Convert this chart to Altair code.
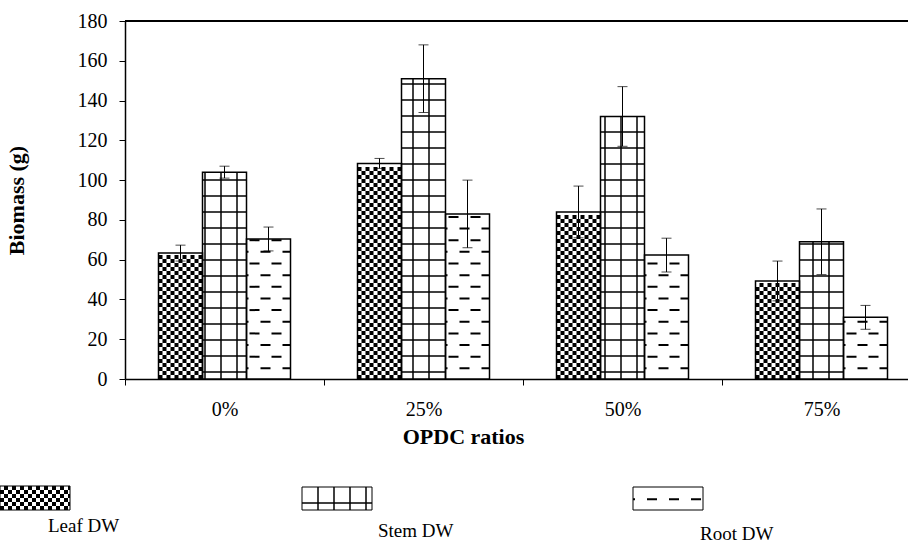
import json
import math

import altair as alt
import pandas as pd

# ---------------- data ----------------
ratios = ["0%", "25%", "50%", "75%"]
series = ["Leaf DW", "Stem DW", "Root DW"]
leaf_dw = [63.3, 108.4, 84.0, 49.3]
stem_dw = [104.0, 151.0, 132.0, 69.0]
root_dw = [70.4, 83.0, 62.3, 31.0]
leaf_err = [4.0, 2.5, 13.0, 10.0]
stem_err = [3.0, 17.0, 15.0, 16.5]
root_err = [6.0, 17.0, 8.5, 6.0]
y_ticks = [0, 20, 40, 60, 80, 100, 120, 140, 160, 180]

# ---------------- layout / style ----------------
PAGE_W, PAGE_H = 908, 544
LEFT, TOP = 125, 21
PLOT_W, PLOT_H = 783, 358
GROUP_PX = 199.0
X_MAX = PLOT_W / GROUP_PX
Y_MAX = 180
BAR_W = 44 / GROUP_PX
UX = GROUP_PX               # px per x unit
UY = PLOT_H / Y_MAX         # px per y unit
FONT = "Liberation Serif"
LABEL_SIZE, TITLE_SIZE, LEGEND_SIZE = 20, 22, 19
PATTERN = {"Leaf DW": "checker", "Stem DW": "grid", "Root DW": "dash"}

STYLES = {
    "checker_a": dict(strokeWidth=4, strokeDash=[4, 4], strokeDashOffset=0, strokeCap="butt"),
    "checker_b": dict(strokeWidth=4, strokeDash=[4, 4], strokeDashOffset=4, strokeCap="butt"),
    "grid": dict(strokeWidth=1.5, strokeCap="butt"),
    "dash_a": dict(strokeWidth=2, strokeDash=[10, 12], strokeDashOffset=8, strokeCap="butt"),
    "dash_b": dict(strokeWidth=2, strokeDash=[10, 12], strokeDashOffset=19, strokeCap="butt"),
}


def pattern(kind, x0, x1, y0, y1, ux, uy, gx0):
    """Fill elements for a rectangle; y0 is the bottom edge, uy px per unit (signed)."""
    out = []
    h_px = abs((y1 - y0) * uy)
    if kind == "checker":
        n = int(h_px // 4)
        for k in range(n):
            yy = y0 + (k + 0.5) * 4 / uy
            out.append(dict(x=x0, x2=x1, y=yy, y2=yy,
                            kind="checker_a" if k % 2 == 0 else "checker_b"))
    elif kind == "grid":
        k = 0
        while 7 + 16 * k <= h_px - 1:
            yy = y0 + (7 + 16 * k) / uy
            out.append(dict(x=x0, x2=x1, y=yy, y2=yy, kind="grid"))
            k += 1
        m = math.floor((x0 - gx0) * ux / 16)
        while True:
            xx = gx0 + 16 * m / ux
            if xx * ux >= x1 * ux - 1.5:
                break
            if xx * ux > x0 * ux + 1.5:
                out.append(dict(x=xx, x2=xx, y=y0, y2=y1, kind="grid"))
            m += 1
    else:
        k = 0
        while 11.65 * (k + 1) - 1 <= h_px - 1:
            yy = y0 + (11.65 * (k + 1) - 1) / uy
            out.append(dict(x=x0, x2=x1, y=yy, y2=yy,
                            kind="dash_a" if k % 2 == 0 else "dash_b"))
            k += 1
    return out


# ---------------- tables built from the arrays ----------------
values = {"Leaf DW": leaf_dw, "Stem DW": stem_dw, "Root DW": root_dw}
errors = {"Leaf DW": leaf_err, "Stem DW": stem_err, "Root DW": root_err}
rows, pat_rows = [], []
for i, r in enumerate(ratios):
    c = i + 0.5
    for j, s in enumerate(series):
        v, e = values[s][i], errors[s][i]
        x0 = c + (j - 1.5) * BAR_W
        x1 = x0 + BAR_W
        rows.append(dict(ratio=r, series=s, x0=x0, x1=x1, xc=(x0 + x1) / 2,
                         base=0.0, value=v, lo=v - e, hi=v + e))
        pat_rows += pattern(PATTERN[s], x0, x1, 0.0, v, UX, UY, 0.0)
bars_df = pd.DataFrame(rows)
pat_df = pd.DataFrame(pat_rows)

# legend (page-pixel layout)
LEG_BOX = {"Leaf DW": (0, 70, 510, 486), "Stem DW": (302, 372, 510, 487),
           "Root DW": (633, 703, 510, 487)}
LEG_TEXT = {"Leaf DW": (48, 532), "Stem DW": (378, 537), "Root DW": (700, 540)}
leg_rows, leg_pat = [], []
for s in series:
    x0, x1, yb, yt = LEG_BOX[s]
    tx, ty = LEG_TEXT[s]
    leg_rows.append(dict(series=s, x0=x0, x1=x1, yb=yb, yt=yt, tx=tx, ty=ty))
    leg_pat += pattern(PATTERN[s], x0, x1, yb, yt, 1.0, -1.0, x0)
leg_df = pd.DataFrame(leg_rows)
leg_pat_df = pd.DataFrame(leg_pat)

# ---------------- scales / axes ----------------
xs = alt.Scale(domain=[0, X_MAX], nice=False, zero=False)
ys = alt.Scale(domain=[0, Y_MAX], nice=False, zero=True)
label_expr = json.dumps(ratios) + "[datum.value]"
x_axis = alt.Axis(values=list(range(len(ratios))), labelExpr=label_expr,
                  labelOffset=GROUP_PX / 2, tickSize=6, tickColor="black",
                  domainColor="black", domainWidth=1.5, tickWidth=1, grid=False,
                  labelFont=FONT, labelFontSize=LABEL_SIZE, labelColor="black",
                  labelPadding=14, labelAngle=0, labelFlush=False, labelOverlap=False,
                  titleFont=FONT, titleFontSize=TITLE_SIZE, titleFontWeight="bold",
                  titleColor="black", titlePadding=7, titleX=338)
y_axis = alt.Axis(values=y_ticks, tickSize=6, tickColor="black", domainColor="black",
                  domainWidth=1.5, tickWidth=1, grid=False, labelFont=FONT,
                  labelFontSize=LABEL_SIZE, labelColor="black", labelPadding=12,
                  labelFlush=False, labelOverlap=False, titleFont=FONT,
                  titleFontSize=TITLE_SIZE, titleFontWeight="bold", titleColor="black",
                  titlePadding=49)
X_TITLE, Y_TITLE = "OPDC ratios", "Biomass (g)"


def X(field):
    return alt.X(field, scale=xs, axis=x_axis, title=X_TITLE)


def Y(field):
    return alt.Y(field, scale=ys, axis=y_axis, title=Y_TITLE)


bars_fill = alt.Chart(bars_df).mark_rect(fill="white", strokeWidth=0).encode(
    x=X("x0:Q"), x2="x1:Q", y=Y("value:Q"), y2="base:Q")


def pattern_layers(df, xf, yf):
    out = []
    for kind, props in STYLES.items():
        sub = df[df["kind"] == kind]
        if sub.empty:
            continue
        out.append(alt.Chart(sub).mark_rule(color="black", **props).encode(
            x=xf("x:Q"), x2="x2:Q", y=yf("y:Q"), y2="y2:Q"))
    return out


bars_outline = alt.Chart(bars_df).mark_rect(fill=None, stroke="black", strokeWidth=1.5).encode(
    x=X("x0:Q"), x2="x1:Q", y=Y("value:Q"), y2="base:Q")
err_rule = alt.Chart(bars_df).mark_rule(color="black", strokeWidth=1).encode(
    x=X("xc:Q"), y=Y("lo:Q"), y2="hi:Q")
cap_hi = alt.Chart(bars_df).mark_tick(orient="horizontal", size=10, thickness=1, color="black").encode(
    x=X("xc:Q"), y=Y("hi:Q"))
cap_lo = alt.Chart(bars_df).mark_tick(orient="horizontal", size=10, thickness=1, color="black").encode(
    x=X("xc:Q"), y=Y("lo:Q"))
top_line = alt.Chart(pd.DataFrame({"a": [0]})).mark_rule(color="black", strokeWidth=2).encode(
    x=alt.value(0), x2=alt.value(PLOT_W), y=alt.value(0))

main = alt.layer(bars_fill, *pattern_layers(pat_df, X, Y), bars_outline,
                 err_rule, cap_hi, cap_lo, top_line)

# legend layers in page pixels
lxs = alt.Scale(domain=[0, PAGE_W], range=[-LEFT, PAGE_W - LEFT], nice=False, zero=False)
lys = alt.Scale(domain=[0, PAGE_H], range=[-TOP, PAGE_H - TOP], nice=False, zero=False)


def LX(field):
    return alt.X(field, scale=lxs, axis=None)


def LY(field):
    return alt.Y(field, scale=lys, axis=None)


leg_fill = alt.Chart(leg_df).mark_rect(fill="white", strokeWidth=0).encode(
    x=LX("x0:Q"), x2="x1:Q", y=LY("yt:Q"), y2="yb:Q")
leg_outline = alt.Chart(leg_df).mark_rect(fill=None, stroke="black", strokeWidth=1).encode(
    x=LX("x0:Q"), x2="x1:Q", y=LY("yt:Q"), y2="yb:Q")
leg_text = alt.Chart(leg_df).mark_text(align="left", baseline="alphabetic", font=FONT,
                                       fontSize=LEGEND_SIZE, color="black").encode(
    x=LX("tx:Q"), y=LY("ty:Q"), text="series:N")
legend = alt.layer(leg_fill, *pattern_layers(leg_pat_df, LX, LY), leg_outline, leg_text)

chart = alt.layer(main, legend).resolve_scale(x="independent", y="independent").properties(
    width=PLOT_W, height=PLOT_H,
    padding={"left": LEFT, "top": TOP, "right": PAGE_W - LEFT - PLOT_W,
             "bottom": PAGE_H - TOP - PLOT_H},
    autosize=alt.AutoSizeParams(type="none"),
    background="white",
).configure_view(stroke=None)

chart.save("out.html", embed_options={"renderer": "svg", "actions": False})
